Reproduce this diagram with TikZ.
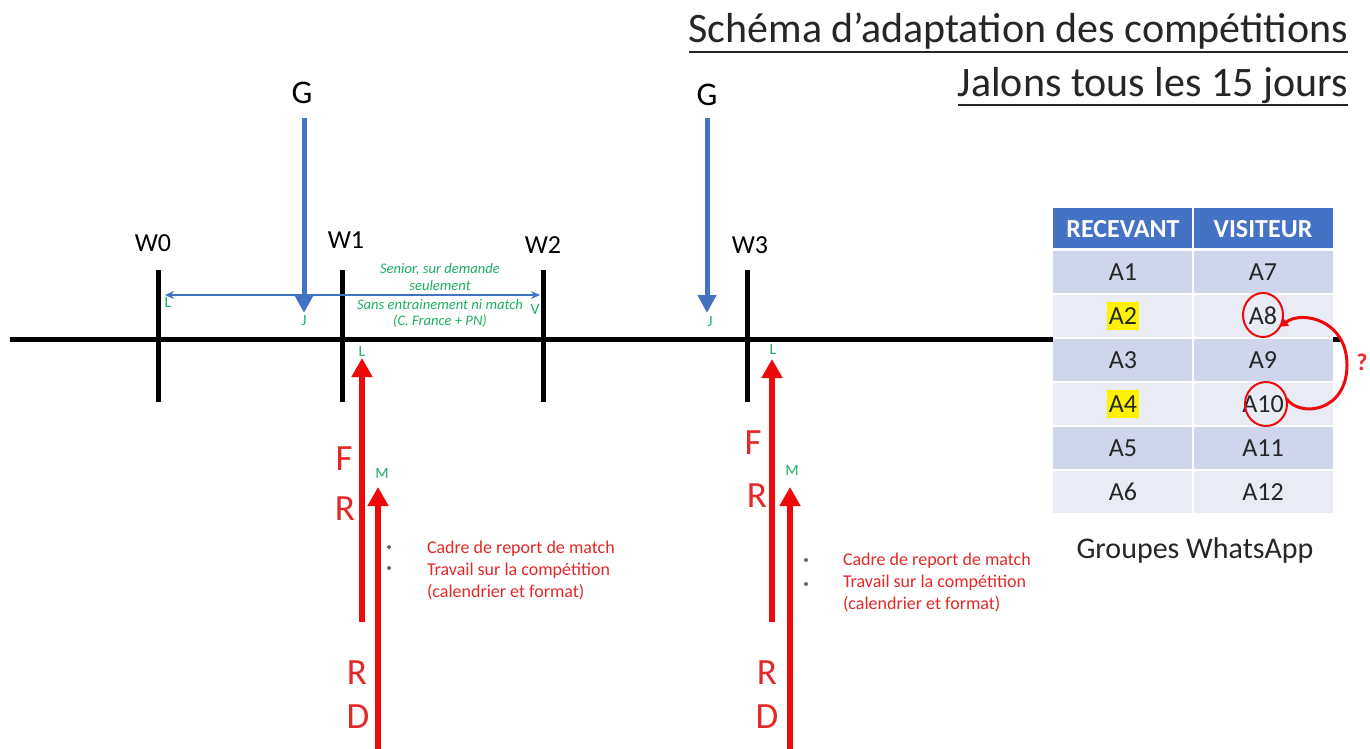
\documentclass[tikz,border=0pt]{standalone}
\usepackage{fontspec}
\setmainfont{Carlito}
\usetikzlibrary{arrows.meta,shapes.geometric}
\definecolor{gblue}{HTML}{4472C4}
\definecolor{ared}{HTML}{EE0A0A}
\definecolor{tred}{HTML}{E42828}
\definecolor{ggreen}{HTML}{1EAF62}
\definecolor{rowA}{HTML}{CFD5EA}
\definecolor{rowB}{HTML}{E9EBF5}
\definecolor{dark}{HTML}{262626}
\definecolor{bulgray}{HTML}{7A5A78}
\begin{document}
\begin{tikzpicture}[x=0.5pt,y=-0.5pt,
  every node/.style={inner sep=0pt, outer sep=0pt},
  title/.style={font=\fontsize{21pt}{25pt}\selectfont, text=dark},
  wlabel/.style={font=\fontsize{13pt}{15pt}\selectfont, text=black},
  glabel/.style={font=\fontsize{16.5pt}{19pt}\selectfont, text=black},
  rlabel/.style={font=\fontsize{18.5pt}{21pt}\selectfont, text=tred},
  small/.style={font=\fontsize{7.8pt}{9pt}\selectfont, text=ggreen},
  note/.style={font=\fontsize{7.3pt}{8pt}\selectfont\itshape, text=ggreen},
  redtxt/.style={font=\fontsize{9pt}{11pt}\selectfont, text=tred, anchor=base west},
  bul/.style={circle, fill=bulgray, minimum size=2pt},
  tick/.style={line width=2.5pt, black},
  garrow/.style={line width=2.5pt, gblue, -{Triangle[length=9pt,width=9pt]}},
  rarrow/.style={line width=3pt, ared, -{Triangle[length=9.5pt,width=10pt]}},
  cell/.style={font=\fontsize{13pt}{15pt}\selectfont, text=dark},
  head/.style={font=\fontsize{13pt}{15pt}\selectfont\bfseries, text=white},
]
\useasboundingbox (0,0) rectangle (1370,749);

% title
\node[title, anchor=base east] (t1) at (1348,43) {Schéma d’adaptation des compétitions};
\node[title, anchor=base east] (t2) at (1348,97) {Jalons tous les 15 jours};
\draw[dark, line width=1.1pt] (t1.west |- 0,52) -- (t1.east |- 0,52);
\draw[dark, line width=1.1pt] (t2.west |- 0,105) -- (t2.east |- 0,105);

% main time line (behind table)
\coordinate (lineL) at (10,339);
\coordinate (lineR) at (1340,339);
\draw[line width=2.5pt, black] (lineL) -- (lineR);

% ticks
\foreach \n/\x in {0/158,1/342,2/543,3/747}{
  \coordinate (w\n top) at (\x,270);
  \coordinate (w\n bot) at (\x,402);
  \draw[tick] (w\n top) -- (w\n bot);
}
\node[wlabel] (W0) at (153,243) {W0};
\node[wlabel] (W1) at (346,240) {W1};
\node[wlabel] (W2) at (543,245) {W2};
\node[wlabel] (W3) at (750,245) {W3};

% G arrows
\node[glabel] (G1) at (302,93) {G};
\node[glabel] (G2) at (707,95) {G};
\coordinate (g1s) at (304,118);
\coordinate (g1e) at (304,313);
\coordinate (g2s) at (707,118);
\coordinate (g2e) at (707,313);
\draw[garrow] (g1s) -- (g1e);
\draw[garrow] (g2s) -- (g2e);

% thin double arrow
\coordinate (dL) at (165,295);
\coordinate (dR) at (540,295);
\draw[line width=0.7pt, gblue, {Stealth[length=4.5pt,width=4pt]}-{Stealth[length=4.5pt,width=4pt]}] (dL) -- (dR);

% green day labels
\node[small] (L0) at (168,302) {L};
\node[small] (J1) at (304,321) {J};
\node[small] (V2) at (535,309) {V};
\node[small] (L1) at (362,351) {L};
\node[small] (J3) at (710,322) {J};
\node[small] (L3) at (773,349) {L};
\node[small] (M1) at (382,473) {M};
\node[small] (M3) at (792,470) {M};

% green note
\node[note] (n1) at (440,269) {Senior, sur demande};
\node[note] (n2) at (440,285) {seulement};
\node[note] (n3) at (440,304) {Sans entrainement ni match};
\node[note] (n4) at (440,321) {(C. France + PN)};

% red arrows
\coordinate (r1s) at (362,622); \coordinate (r1e) at (362,358);
\coordinate (r2s) at (378,749); \coordinate (r2e) at (378,487);
\coordinate (r3s) at (772,622); \coordinate (r3e) at (772,359);
\coordinate (r4s) at (790,749); \coordinate (r4e) at (790,487);
\draw[rarrow] (r1s) -- (r1e);
\draw[rarrow] (r2s) -- (r2e);
\draw[rarrow] (r3s) -- (r3e);
\draw[rarrow] (r4s) -- (r4e);

\node[rlabel] (F1) at (344,459) {F};
\node[rlabel] (R1) at (345,509) {R};
\node[rlabel] (R1b) at (357,673) {R};
\node[rlabel] (D1) at (358,717) {D};
\node[rlabel] (F3) at (753,443) {F};
\node[rlabel] (R3) at (757,496) {R};
\node[rlabel] (R3b) at (767,673) {R};
\node[rlabel] (D3) at (767,717) {D};

% red notes
\node[bul] (b1) at (389,547) {};
\node[bul] (b2) at (389,568) {};
\node[redtxt] (c1) at (427,553) {Cadre de report de match};
\node[redtxt] (c2) at (427,575) {Travail sur la compétition};
\node[redtxt] (c3) at (427,597) {(calendrier et format)};
\node[bul] (b3) at (806,560) {};
\node[bul] (b4) at (806,584) {};
\node[redtxt] (d1) at (843,565) {Cadre de report de match};
\node[redtxt] (d2) at (843,587) {Travail sur la compétition};
\node[redtxt] (d3) at (843,609) {(calendrier et format)};

% table
\fill[white] (1053,208) rectangle (1333,513);
\fill[gblue] (1053,208) rectangle (1333,248);
\draw[white, line width=1pt] (1193,208) -- (1193,248);
\node[head] (h1) at (1123,229) {RECEVANT};
\node[head] (h2) at (1263,229) {VISITEUR};
\foreach \k/\c in {0/rowA,1/rowB,2/rowA,3/rowB,4/rowA,5/rowB}{
  \fill[\c] (1053,{251+44*\k}) rectangle (1192,{293+44*\k});
  \fill[\c] (1194,{251+44*\k}) rectangle (1333,{293+44*\k});
}
\node[cell] (a1) at (1123,272) {A1};
\node[cell, fill=yellow, inner ysep=3pt, inner xsep=1pt] (a2) at (1123,316) {A2};
\node[cell] (a3) at (1123,360) {A3};
\node[cell, fill=yellow, inner ysep=3pt, inner xsep=1pt] (a4) at (1123,404) {A4};
\node[cell] (a5) at (1123,448) {A5};
\node[cell] (a6) at (1123,492) {A6};
\node[cell] (a7) at (1263,272) {A7};
\node[cell] (a8) at (1263,316) {A8};
\node[cell] (a9) at (1263,360) {A9};
\node[cell] (a10) at (1263,404) {A10};
\node[cell] (a11) at (1263,448) {A11};
\node[cell] (a12) at (1263,492) {A12};

% red circles and loop
\node[draw=ared, line width=1pt, ellipse, minimum width=20pt, minimum height=22pt] (c8) at (1263,315) {};
\node[draw=ared, line width=1pt, ellipse, minimum width=21pt, minimum height=22pt] (c10) at (1266,404) {};
\draw[ared, line width=1.5pt, -{Triangle[length=4pt,width=4.5pt]}]
  (c10.15) .. controls (1300,418) and (1347,412) .. (1347,365)
  .. controls (1347,320) and (1302,310) .. (c8.-35);
\node[font=\fontsize{12pt}{14pt}\selectfont\bfseries, text=tred] (q) at (1362,362) {?};

\node[font=\fontsize{15pt}{17pt}\selectfont, text=dark] (grp) at (1195,550) {Groupes WhatsApp};
\end{tikzpicture}
\end{document}
